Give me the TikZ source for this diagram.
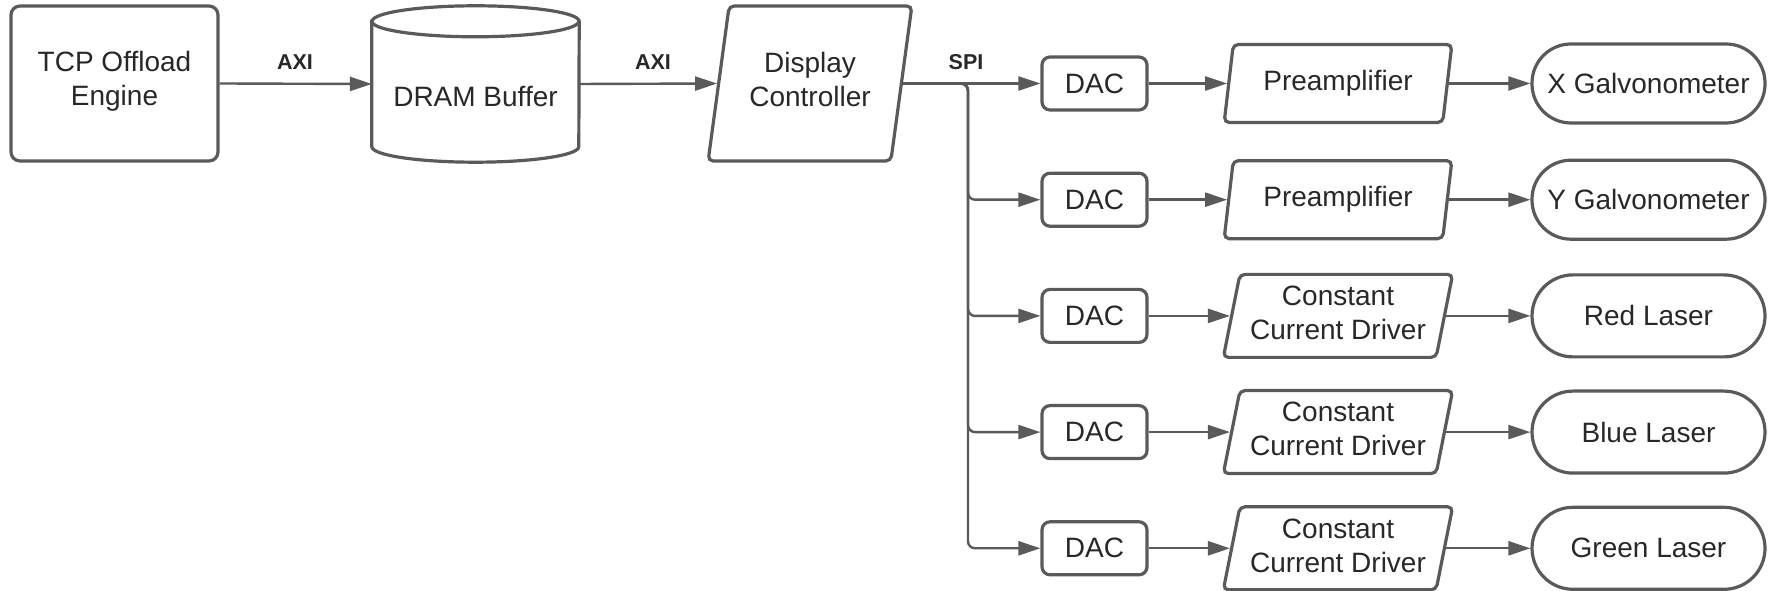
\documentclass[tikz,border=0pt]{standalone}
\usepackage{fontspec}
\setmainfont{Liberation Sans}
\usetikzlibrary{shapes.geometric,arrows.meta}
\definecolor{linegray}{RGB}{90,90,90}
\definecolor{inkgray}{RGB}{40,40,40}
\newcommand{\bodyfont}{\fontsize{28pt}{34pt}\selectfont}
\newcommand{\busfont}{\fontsize{21.5pt}{26pt}\selectfont\bfseries}

\begin{document}
\begin{tikzpicture}[x=1pt,y=1pt,
  outline/.style={draw=linegray, line width=3.2pt},
  conn/.style={draw=linegray, line width=2.4pt, -{Triangle[length=22pt,width=14pt]}},
  txt/.style={text=inkgray, font=\bodyfont, align=center},
  box/.style={outline, txt, rectangle, rounded corners=9pt, fill=white, inner sep=0pt},
  para/.style={outline, txt, trapezium, trapezium left angle=76, trapezium right angle=104,
    trapezium stretches=true, rounded corners=5pt, fill=white, inner sep=0pt},
  term/.style={outline, txt, rectangle, rounded corners=39pt, fill=white, inner sep=0pt},
  bus/.style={text=inkgray, font=\busfont}
]
\fill[white] (0,0) rectangle (1771,591);
\useasboundingbox (0,0) rectangle (1771,591);

% main chain
\node[box, text depth=10pt, minimum width=207, minimum height=155] (toe) at (114.5,507.5) {TCP Offload\\Engine};

\node[minimum width=207, minimum height=156, inner sep=0pt] (dram) at (475.5,507) {};
\draw[outline, fill=white] ([yshift=-15.5pt]dram.north west) -- ([yshift=15.5pt]dram.south west)
  arc[start angle=180, end angle=360, x radius=103.5, y radius=15.5]
  -- ([yshift=-15.5pt]dram.north east)
  arc[start angle=0, end angle=180, x radius=103.5, y radius=15.5] -- cycle;
\draw[outline] ([yshift=-15.5pt]dram.north west)
  arc[start angle=180, end angle=360, x radius=103.5, y radius=15.5];
\node[txt] (dramtext) at (475.5,494) {DRAM Buffer};

\node[para, text depth=9pt, minimum width=204, minimum height=155] (dc) at (810,507.5) {Display\\Controller};

% output channels
\foreach \i/\y in {1/507.5, 2/391.3, 3/275.1, 4/158.9, 5/42.7} {
  \node[box, rounded corners=8pt, minimum width=105, minimum height=53] (dac\i) at (1094.5,\y) {DAC};
}
\node[para, minimum width=228, minimum height=78] (amp1) at (1338,507.5) {Preamplifier};
\node[para, minimum width=228, minimum height=78] (amp2) at (1338,391.3) {Preamplifier};
\node[para, text depth=6pt, minimum width=230, minimum height=83] (amp3) at (1338,275.1) {Constant\\Current Driver};
\node[para, text depth=6pt, minimum width=230, minimum height=83] (amp4) at (1338,158.9) {Constant\\Current Driver};
\node[para, text depth=6pt, minimum width=230, minimum height=83] (amp5) at (1338,42.7) {Constant\\Current Driver};

\node[term, minimum width=233, minimum height=79] (out1) at (1648.5,507.5) {X Galvonometer};
\node[term, minimum width=233, minimum height=79] (out2) at (1648.5,391.3) {Y Galvonometer};
\node[term, rounded corners=41pt, minimum width=233, minimum height=82] (out3) at (1648.5,275.1) {Red Laser};
\node[term, rounded corners=41pt, minimum width=233, minimum height=82] (out4) at (1648.5,158.9) {Blue Laser};
\node[term, rounded corners=41pt, minimum width=233, minimum height=82] (out5) at (1648.5,42.7) {Green Laser};

% connectors
\draw[conn] (toe.east) -- (dram.west);
\draw[conn] (dram.east) -- (dc.left side);
\draw[conn] (dc.right side) -- (dac1.west);
\coordinate (split) at (968,507.5);
\foreach \i in {2,...,5} {
  \draw[conn, rounded corners=7pt] (dc.right side) -- (split) |- (dac\i.west);
}
\foreach \i in {1,...,5} {
  \draw[conn] (dac\i.east) -- (amp\i.left side);
  \draw[conn] (amp\i.right side) -- (out\i.west);
}

% bus labels
\node[bus] (axia) at (295,528.5) {AXI};
\node[bus] (axib) at (653,528.5) {AXI};
\node[bus] (spi) at (966,528.5) {SPI};
\end{tikzpicture}
\end{document}
